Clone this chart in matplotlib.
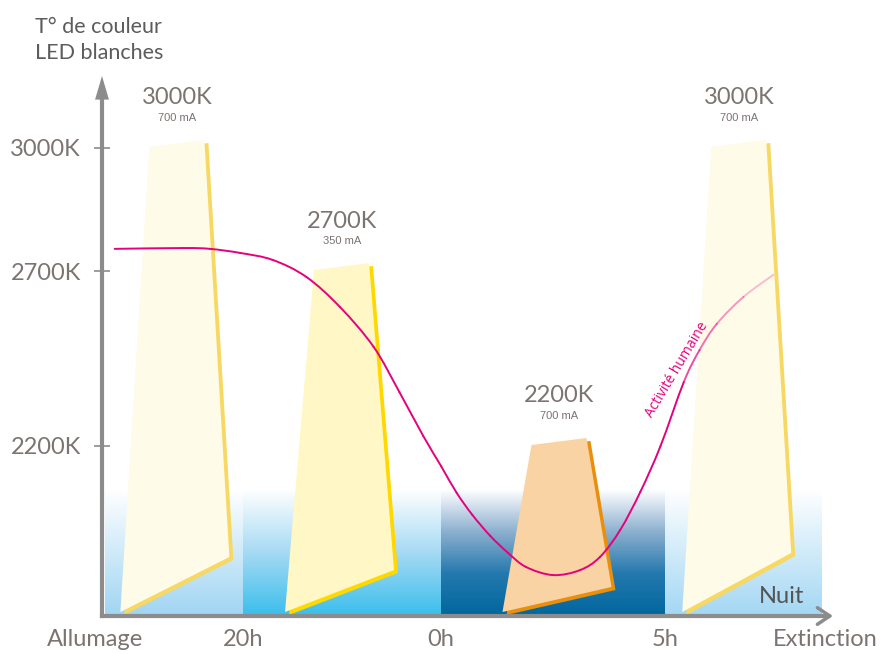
import numpy as np
import matplotlib
matplotlib.use('Agg')
import matplotlib.pyplot as plt
from matplotlib.colors import LinearSegmentedColormap, to_rgba
from matplotlib.patches import Polygon, PathPatch
from matplotlib.path import Path
from matplotlib.transforms import ScaledTranslation

# --- data -------------------------------------------------------------
phase_labels = ['Allumage', '20h', '0h', '5h', 'Extinction']
temp_ticks = [2200, 2700, 3000]
bar_temps = [3000, 2700, 2200, 3000]
bar_currents = ['700 mA', '350 mA', '700 mA', '700 mA']
bar_pos = [0.51, 1.49, 2.52, 3.46]

# "Activité humaine" curve (x in phase units, y on the K axis)
activity_x = [0.07, 0.57, 0.76, 0.98, 1.15, 1.32, 1.49, 1.66, 1.79, 1.91, 2.00, 2.07,
              2.14, 2.22, 2.30, 2.38, 2.50, 2.62, 2.71, 2.80, 2.89, 2.98, 3.12, 3.22,
              3.33, 3.50, 3.69]
activity_k = [2754, 2756, 2754, 2744, 2727, 2683, 2597, 2483, 2354, 2229, 2143, 2066,
              2003, 1943, 1894, 1854, 1831, 1845, 1883, 1960, 2069, 2200, 2383, 2474,
              2549, 2626, 2689]

# --- styling ------------------------------------------------------------
bar_face = ['#FEFBE9', '#FFF8C6', '#F9D3A3', '#FEFBE9']
bar_edge = ['#F7D862', '#FFD800', '#E98F0C', '#F7D862']
bar_rise = [59, 46, 29, 63]          # perspective of the bottom edge (px)
band_colors = [['#FFFFFF', '#A0D5F3'],
               ['#FFFFFF', '#A6DAF4', '#3ABEEC'],
               ['#FFFFFF', '#8DB0CF', '#2479AE', '#00679D'],
               ['#FFFFFF', '#A3D7F4']]
night_top = 2075
grey = '#8c8c8c'
txt = '#7b7471'
magenta = '#E5007D'

# the drawing is not to scale: piecewise-linear axes
X_DATA = [-10, 0, 1, 2, 3, 4, 14]
X_PIX = [-1275, 105, 243, 441, 665, 822, 2392]
Y_DATA = [0, 1714, 2200, 2700, 3000, 6000]
Y_PIX = [-600, 0, 170, 345, 468, 1698]

def fx(x): return np.interp(x, X_DATA, X_PIX)
def ix(p): return np.interp(p, X_PIX, X_DATA)
def fy(y): return np.interp(y, Y_DATA, Y_PIX)
def iy(p): return np.interp(p, Y_PIX, Y_DATA)

fig = plt.figure(figsize=(8.8, 6.54), dpi=100)
ax = fig.add_axes([102 / 880, 38 / 654, 731 / 880, 540 / 654])
ax.set_xscale('function', functions=(fx, ix))
ax.set_yscale('function', functions=(fy, iy))

# night bands
grad = np.linspace(1, 0, 256).reshape(-1, 1)
for i, cols in enumerate(band_colors):
    cmap = LinearSegmentedColormap.from_list(f'band{i}', cols)
    ax.imshow(grad, extent=(i, i + 1, iy(0), night_top), cmap=cmap,
              aspect='auto', origin='lower', interpolation='bilinear', zorder=0)

# perspective bars
for pos, val, rise, fc, ec in zip(bar_pos, bar_temps, bar_rise, bar_face, bar_edge):
    cx, top = fx(pos), fy(val)
    px = np.array([cx - 26, cx + 29, cx + 54, cx - 55])
    py = np.array([top + 1, top + 8, rise, 4])
    ax.add_patch(Polygon(np.column_stack([ix(px + 4), iy(py - 3)]),
                         closed=True, fc=ec, ec='none', zorder=2))
    ax.add_patch(Polygon(np.column_stack([ix(px), iy(py)]),
                         closed=True, fc=fc, ec='none', zorder=2.1))

for pos, val, cur in zip(bar_pos, bar_temps, bar_currents):
    ax.annotate(f'{val}K', (pos, val), xytext=(2, 50), textcoords='offset pixels',
                ha='center', va='center', fontsize=17, color=txt,
                family='Lato', annotation_clip=False)
    ax.annotate(cur, (pos, val), xytext=(2, 30), textcoords='offset pixels',
                ha='center', va='center', fontsize=8, color=txt,
                family='Liberation Sans', annotation_clip=False)

# activity curve: smooth (Catmull-Rom) pieces, fading at both ends
P = np.column_stack([fx(np.array(activity_x)), fy(np.array(activity_k))])
P = np.vstack([P[0], P, P[-1]])
n = len(activity_x) - 1
mids = (np.array(activity_x[:-1]) + np.array(activity_x[1:])) / 2
alphas = np.ones(n)
alphas[mids < 0.3] = 0.45
fade = mids > 3.15
alphas[fade] = np.linspace(0.7, 0.25, fade.sum())
for k in range(n):
    p0, p1, p2, p3 = P[k], P[k + 1], P[k + 2], P[k + 3]
    c1 = p1 + (p2 - p0) / 6
    c2 = p2 - (p3 - p1) / 6
    v = np.array([p1, c1, c2, p2])
    v = np.column_stack([ix(v[:, 0]), iy(v[:, 1])])
    path = Path(v, [Path.MOVETO, Path.CURVE4, Path.CURVE4, Path.CURVE4])
    ax.add_patch(PathPatch(path, fc='none', ec=to_rgba(magenta, alphas[k]),
                           lw=1.4, capstyle='round', zorder=3))
ax.text(3.076, 2417, 'Activité humaine', rotation=59, rotation_mode='anchor',
        ha='center', va='center', color=magenta, fontsize=10, family='Open Sans',
        zorder=4)

ax.text(3.745, 1771, 'Nuit', ha='center', va='center', fontsize=17,
        color='#555555', family='Lato', zorder=4)

# axes
ax.set_xlim(ix(102), ix(833))
ax.set_ylim(iy(0), iy(540))
for s in ['top', 'right']:
    ax.spines[s].set_visible(False)
for s in ['left', 'bottom']:
    ax.spines[s].set_color(grey)
    ax.spines[s].set_linewidth(3)
    ax.spines[s].set_zorder(5)
ax.spines['left'].set_bounds(iy(0), iy(525))
ax.spines['bottom'].set_bounds(ix(102), ix(824))
ax.annotate('', xy=(0, 1), xycoords='axes fraction', xytext=(0, 0.95),
            arrowprops=dict(arrowstyle='-|>,head_length=1.7,head_width=0.5',
                            mutation_scale=10, lw=0, color=grey,
                            shrinkA=0, shrinkB=0))
ax.annotate('', xy=(1, 0), xycoords='axes fraction', xytext=(0.97, 0),
            arrowprops=dict(arrowstyle='->,head_length=0.45,head_width=0.3',
                            mutation_scale=20, lw=2.5, color=grey,
                            shrinkA=0, shrinkB=0))

ax.set_yticks(temp_ticks, [f'{t}K' for t in temp_ticks])
ax.set_xticks(range(len(phase_labels)), phase_labels)
ax.tick_params(axis='y', direction='inout', length=12, width=1.2, color=grey,
               pad=9, labelsize=17, labelcolor=txt)
ax.tick_params(axis='x', length=0, pad=9, labelsize=17, labelcolor=txt)
ax.minorticks_off()
for lbl in ax.get_xticklabels() + ax.get_yticklabels():
    lbl.set_family('Lato')
xl = ax.get_xticklabels()
xl[0].set_transform(xl[0].get_transform() + ScaledTranslation(-0.1, 0, fig.dpi_scale_trans))
xl[-1].set_ha('right')
xl[-1].set_transform(xl[-1].get_transform() + ScaledTranslation(0.56, 0, fig.dpi_scale_trans))

fig.text(35 / 880, 1 - 17 / 654, 'T° de couleur\nLED blanches', ha='left', va='top',
         fontsize=15.5, color='#5c5c5c', family='Lato', linespacing=1.35)

fig.savefig('out.png', dpi=100)
